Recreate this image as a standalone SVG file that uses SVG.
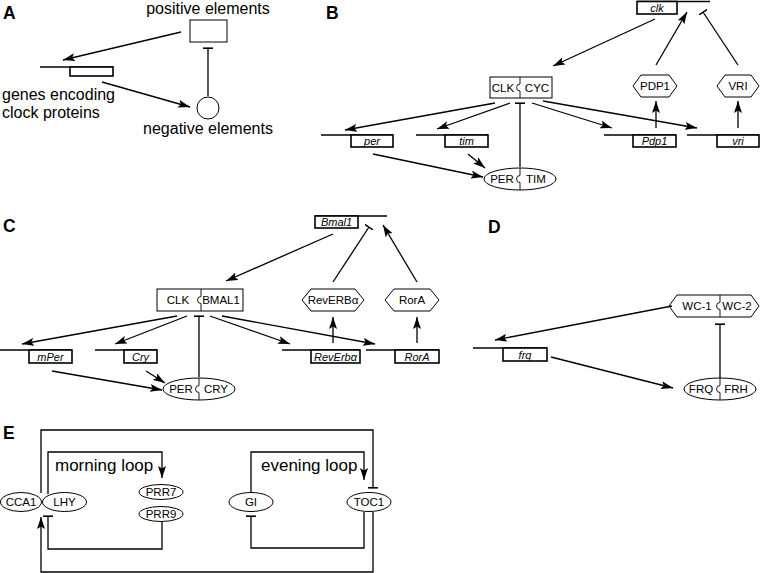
<svg xmlns="http://www.w3.org/2000/svg" width="761" height="573" viewBox="0 0 761 573">
<style>
text{font-family:"Liberation Sans",Arial,sans-serif;fill:#000}
.lab{font-size:17.5px;font-weight:bold}
.big{font-size:16px}
.sm{font-size:11.5px}
.gi{font-size:11px;font-style:italic}
.node{fill:#fff;stroke:#000;stroke-width:1}
.gline{stroke:#000;stroke-width:1.6;fill:none}
.grect{fill:#fff;stroke:#000;stroke-width:1.6}
.div{fill:none;stroke:#000;stroke-width:0.9}
.c{fill:none;stroke:#000;stroke-width:1.3}
.act{marker-end:url(#arr)}
.inh{marker-end:url(#bar)}
</style>
<defs>
<marker id="arr" markerUnits="userSpaceOnUse" markerWidth="13" markerHeight="8" refX="12" refY="4" orient="auto">
<path d="M0,0 L12,4 L0,8 L2.5,4 z" fill="#000"/>
</marker>
<marker id="bar" markerUnits="userSpaceOnUse" markerWidth="2" markerHeight="10" refX="1" refY="5" orient="auto">
<rect x="0" y="0" width="1.6" height="10" fill="#000"/>
</marker>
</defs>
<rect width="761" height="573" fill="#fff"/>

<!-- Panel labels -->
<text class="lab" x="3" y="19">A</text>
<text class="lab" x="326" y="19">B</text>
<text class="lab" x="3" y="232">C</text>
<text class="lab" x="488" y="233">D</text>
<text class="lab" x="3" y="439">E</text>

<!-- Panel A -->
<g id="A-positive"><rect class="node" x="190" y="20" width="37" height="22"/><text class="big" x="208" y="14" text-anchor="middle">positive elements</text></g>
<g id="A-negative"><circle class="node" cx="208" cy="108" r="11"/><text class="big" x="208" y="134" text-anchor="middle">negative elements</text></g>
<g id="A-genes"><line class="gline" x1="40" y1="67" x2="113" y2="67"/><rect class="grect" x="70" y="67" width="43" height="9"/><text class="big" x="2" y="100">genes encoding</text><text class="big" x="2" y="118">clock proteins</text></g>

<!-- Panel B -->
<g id="B-clk"><line class="gline" x1="637" y1="1.5" x2="710" y2="1.5"/><rect class="grect" x="637" y="1.5" width="40" height="12.5"/><text class="gi" x="657" y="11.5" text-anchor="middle">clk</text></g>
<g id="B-CLKCYC"><rect class="node" x="490" y="77" width="62" height="21"/><path class="div" d="M520,77 V84 a3.5 3.5 0 0 0 0 7 V98"/><text class="sm" x="503" y="91.5" text-anchor="middle">CLK</text><text class="sm" x="537" y="91.5" text-anchor="middle">CYC</text></g>
<g id="B-PDP1"><polygon class="node" points="633,86 641,75 669,75 677,86 669,97 641,97"/><text class="sm" x="655" y="90" text-anchor="middle">PDP1</text></g>
<g id="B-VRI"><polygon class="node" points="717,86 725,75 751,75 759,86 751,97 725,97"/><text class="sm" x="738" y="90" text-anchor="middle">VRI</text></g>
<g id="B-per"><line class="gline" x1="321" y1="135" x2="393" y2="135"/><rect class="grect" x="351" y="135" width="42" height="12"/><text class="gi" x="372" y="145" text-anchor="middle">per</text></g>
<g id="B-tim"><line class="gline" x1="416" y1="135" x2="488" y2="135"/><rect class="grect" x="445" y="135" width="43" height="12"/><text class="gi" x="466.5" y="145" text-anchor="middle">tim</text></g>
<g id="B-Pdp1"><line class="gline" x1="604" y1="135" x2="676" y2="135"/><rect class="grect" x="633" y="135" width="43" height="12"/><text class="gi" x="654.5" y="145" text-anchor="middle">Pdp1</text></g>
<g id="B-vri"><line class="gline" x1="687" y1="135" x2="759" y2="135"/><rect class="grect" x="717" y="135" width="42" height="12"/><text class="gi" x="738" y="145" text-anchor="middle">vri</text></g>
<g id="B-PERTIM"><ellipse class="node" cx="520" cy="179" rx="36" ry="11"/><path class="div" d="M520,168 V175.5 a3.5 3.5 0 0 0 0 7 V190"/><text class="sm" x="502" y="183" text-anchor="middle">PER</text><text class="sm" x="536" y="183" text-anchor="middle">TIM</text></g>

<!-- Panel C -->
<g id="C-Bmal1"><line class="gline" x1="315" y1="216" x2="387" y2="216"/><rect class="grect" x="315" y="216" width="43" height="12"/><text class="gi" x="336.5" y="226" text-anchor="middle">Bmal1</text></g>
<g id="C-CLKBMAL1"><rect class="node" x="157" y="289" width="86" height="22"/><path class="div" d="M201,289 V296.5 a3.5 3.5 0 0 0 0 7 V311"/><text class="sm" x="178" y="304" text-anchor="middle">CLK</text><text class="sm" x="221" y="304" text-anchor="middle">BMAL1</text></g>
<g id="C-RevERBa"><polygon class="node" points="302,300 311,289 355,289 364,300 355,311 311,311"/><text class="sm" x="333" y="304" text-anchor="middle">RevERBα</text></g>
<g id="C-RorA"><polygon class="node" points="385,300 394,289 430,289 439,300 430,311 394,311"/><text class="sm" x="412" y="304" text-anchor="middle">RorA</text></g>
<g id="C-mPer"><line class="gline" x1="0" y1="350" x2="72" y2="350"/><rect class="grect" x="29" y="350" width="43" height="13"/><text class="gi" x="50.5" y="360.5" text-anchor="middle">mPer</text></g>
<g id="C-Cry"><line class="gline" x1="95" y1="350" x2="157" y2="350"/><rect class="grect" x="124" y="350" width="33" height="13"/><text class="gi" x="140.5" y="360.5" text-anchor="middle">Cry</text></g>
<g id="C-RevErba"><line class="gline" x1="282" y1="350" x2="360" y2="350"/><rect class="grect" x="311" y="350" width="49" height="13"/><text class="gi" x="335.5" y="360.5" text-anchor="middle">RevErbα</text></g>
<g id="C-RorAgene"><line class="gline" x1="366" y1="350" x2="439" y2="350"/><rect class="grect" x="395" y="350" width="44" height="13"/><text class="gi" x="417" y="360.5" text-anchor="middle">RorA</text></g>
<g id="C-PERCRY"><ellipse class="node" cx="199" cy="389" rx="36" ry="11"/><path class="div" d="M199,378 V385.5 a3.5 3.5 0 0 0 0 7 V400"/><text class="sm" x="181" y="393" text-anchor="middle">PER</text><text class="sm" x="216" y="393" text-anchor="middle">CRY</text></g>

<!-- Panel D -->
<g id="D-WC"><polygon class="node" points="669,306 677,295 751,295 759,306 751,317 677,317"/><path class="div" d="M720,295 V302.5 a3.5 3.5 0 0 0 0 7 V317"/><text class="sm" x="697" y="310" text-anchor="middle">WC-1</text><text class="sm" x="737" y="310" text-anchor="middle">WC-2</text></g>
<g id="D-frq"><line class="gline" x1="473" y1="348" x2="547" y2="348"/><rect class="grect" x="503" y="348" width="44" height="13"/><text class="gi" x="525" y="358.5" text-anchor="middle">frq</text></g>
<g id="D-FRQFRH"><ellipse class="node" cx="720" cy="389" rx="36" ry="11"/><path class="div" d="M720,378 V385.5 a3.5 3.5 0 0 0 0 7 V400"/><text class="sm" x="701" y="393" text-anchor="middle">FRQ</text><text class="sm" x="736" y="393" text-anchor="middle">FRH</text></g>

<!-- Panel E -->
<g id="E-CCA1"><ellipse class="node" cx="21" cy="502" rx="20.5" ry="9.5"/><text class="sm" x="21" y="506" text-anchor="middle">CCA1</text></g>
<g id="E-LHY"><ellipse class="node" cx="64.5" cy="502" rx="22" ry="9.5"/><text class="sm" x="64.5" y="506" text-anchor="middle">LHY</text></g>
<g id="E-PRR7"><ellipse class="node" cx="161" cy="492" rx="22" ry="7.5"/><text class="sm" x="161" y="496" text-anchor="middle">PRR7</text></g>
<g id="E-PRR9"><ellipse class="node" cx="161" cy="514" rx="22" ry="7.5"/><text class="sm" x="161" y="518" text-anchor="middle">PRR9</text></g>
<g id="E-GI"><ellipse class="node" cx="251" cy="502" rx="22" ry="9.5"/><text class="sm" x="251" y="506" text-anchor="middle">GI</text></g>
<g id="E-TOC1"><ellipse class="node" cx="369" cy="502" rx="22" ry="9.5"/><text class="sm" x="369" y="506" text-anchor="middle">TOC1</text></g>
<text x="55" y="471" style="font-size:17px">morning loop</text>
<text x="261" y="471" style="font-size:17px">evening loop</text>

<!-- Connectors -->
<g id="connectors">
<line class="c act" x1="181" y1="32" x2="63" y2="60"/>
<line class="c act" x1="102" y1="82" x2="190" y2="107"/>
<line class="c inh" x1="208" y1="96" x2="208" y2="48"/>

<line class="c act" x1="655" y1="19" x2="553" y2="66"/>
<line class="c act" x1="656" y1="65" x2="687" y2="12"/>
<line class="c inh" x1="738" y1="65" x2="703" y2="12"/>
<line class="c act" x1="656" y1="128" x2="656" y2="101"/>
<line class="c act" x1="738" y1="128" x2="738" y2="101"/>
<line class="c act" x1="495" y1="103" x2="345" y2="130"/>
<line class="c act" x1="510" y1="103" x2="437" y2="129"/>
<line class="c act" x1="532" y1="103" x2="612" y2="128"/>
<line class="c act" x1="543" y1="101" x2="697" y2="128"/>
<line class="c inh" x1="520" y1="167" x2="520" y2="103"/>
<line class="c act" x1="373" y1="154" x2="483" y2="177"/>
<line class="c act" x1="468" y1="154" x2="485" y2="168"/>

<line class="c act" x1="333" y1="234" x2="226" y2="281"/>
<line class="c inh" x1="333" y1="282" x2="369" y2="227"/>
<line class="c act" x1="417" y1="282" x2="383" y2="225"/>
<line class="c act" x1="333" y1="343" x2="333" y2="317"/>
<line class="c act" x1="417" y1="343" x2="417" y2="317"/>
<line class="c act" x1="177" y1="316" x2="22" y2="344"/>
<line class="c act" x1="187" y1="316" x2="115" y2="344"/>
<line class="c act" x1="210" y1="316" x2="290" y2="344"/>
<line class="c act" x1="222" y1="316" x2="375" y2="344"/>
<line class="c inh" x1="199" y1="377" x2="199" y2="316"/>
<line class="c act" x1="52" y1="371" x2="162" y2="390"/>
<line class="c act" x1="146" y1="371" x2="165" y2="383"/>

<line class="c act" x1="672" y1="306" x2="495" y2="340"/>
<line class="c act" x1="551" y1="357" x2="673" y2="388"/>
<line class="c inh" x1="720" y1="378" x2="720" y2="324"/>

<polyline class="c inh" points="41,493 41,430 373,430 373,488"/>
<polyline class="c act" points="373,512 373,572 41,572 41,517"/>
<polyline class="c act" points="48,494 48,452 162,452 162,478"/>
<polyline class="c inh" points="162,521 162,549 48,549 48,516"/>
<polyline class="c act" points="251,492 251,452 364,452 364,480"/>
<polyline class="c inh" points="364,512 364,548 251,548 251,516"/>
</g>
</svg>
